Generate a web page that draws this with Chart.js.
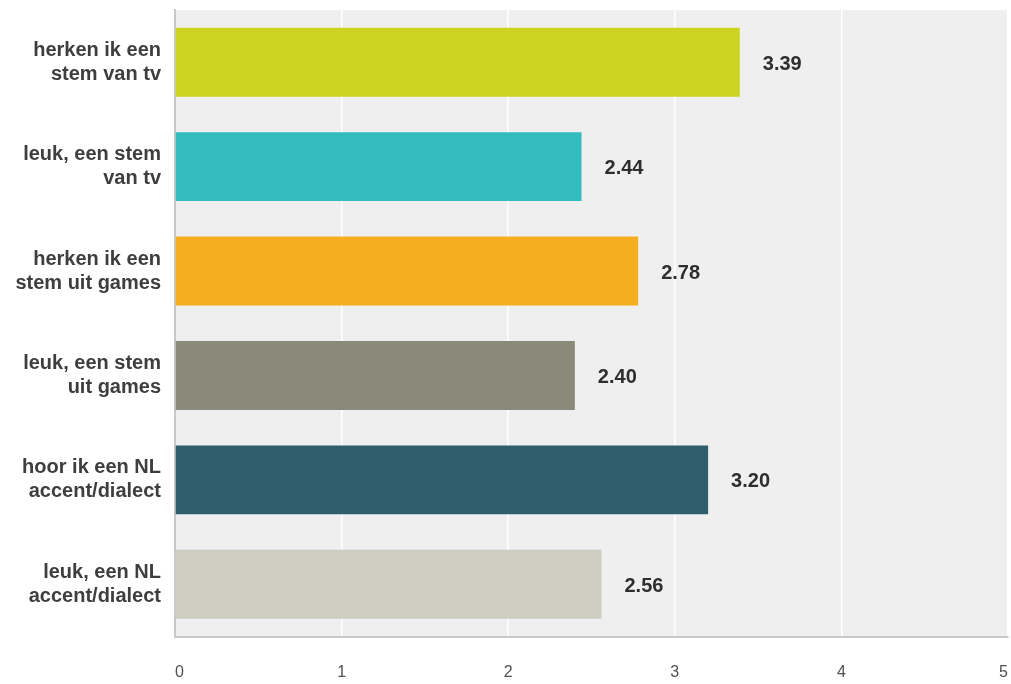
<!DOCTYPE html>
<html>
<head>
<meta charset="utf-8">
<script src="https://cdn.jsdelivr.net/npm/chart.js@4/dist/chart.umd.min.js"></script>
<style>
  html, body { margin: 0; padding: 0; background: #ffffff; }
  #wrap { width: 1011px; height: 684px; position: relative; }
</style>
</head>
<body>
<div id="wrap"><canvas id="c" width="1011" height="684"></canvas></div>
<script>
// Answer categories (two-line labels) and their average scores
const categories = [
  ["herken ik een", "stem van tv"],
  ["leuk, een stem", "van tv"],
  ["herken ik een", "stem uit games"],
  ["leuk, een stem", "uit games"],
  ["hoor ik een NL", "accent/dialect"],
  ["leuk, een NL", "accent/dialect"]
];
const averages = [3.39, 2.44, 2.78, 2.40, 3.20, 2.56];
const barColors = ["#cdd321", "#33bcbe", "#f5ae20", "#898a7a", "#2e5e6b", "#cecdbf"];
const axisTicks = [0, 1, 2, 3, 4, 5];

const FONT = "'Liberation Sans', Arial, sans-serif";

// Light grey panel behind the bars
const panelBackground = {
  id: 'panelBackground',
  beforeDraw(chart) {
    const { ctx, chartArea: a } = chart;
    ctx.save();
    ctx.fillStyle = '#efefef';
    ctx.fillRect(a.left, a.top, a.right - a.left, a.bottom - a.top);
    ctx.restore();
  }
};

// Score printed to the right of each bar
const valueLabels = {
  id: 'valueLabels',
  afterDatasetsDraw(chart) {
    const { ctx } = chart;
    const meta = chart.getDatasetMeta(0);
    ctx.save();
    ctx.font = "bold 20px " + FONT;
    ctx.fillStyle = '#2e2e2e';
    ctx.textAlign = 'left';
    ctx.textBaseline = 'middle';
    meta.data.forEach((bar, i) => {
      ctx.fillText(averages[i].toFixed(2), bar.x + 23, bar.y + 2);
    });
    ctx.restore();
  }
};

new Chart(document.getElementById('c'), {
  type: 'bar',
  data: {
    labels: categories,
    datasets: [{
      data: averages,
      backgroundColor: barColors,
      borderWidth: 0,
      categoryPercentage: 1.0,
      barPercentage: 0.66
    }]
  },
  options: {
    indexAxis: 'y',
    responsive: false,
    animation: false,
    devicePixelRatio: 1,
    layout: { padding: { top: 10, right: 3, left: 0, bottom: 0 } },
    plugins: {
      legend: { display: false },
      tooltip: { enabled: false }
    },
    scales: {
      x: {
        min: 0,
        max: 5,
        afterBuildTicks(scale) {
          scale.ticks = axisTicks.map(v => ({ value: v }));
        },
        afterFit(scale) {
          scale.height = 47.5;
          scale.paddingLeft = 0;
          scale.paddingRight = 0;
        },
        grid: {
          drawTicks: false,
          color: ctx => ctx.tick && ctx.tick.value === 0 ? 'rgba(0,0,0,0)' : '#ffffff',
          lineWidth: 1.5
        },
        border: { display: true, color: '#c8c8c8', width: 2 },
        ticks: {
          align: 'inner',
          padding: 26,
          color: '#505050',
          font: { family: FONT, size: 16 }
        }
      },
      y: {
        afterFit(scale) {
          scale.width = 175;
          scale.paddingTop = 0;
          scale.paddingBottom = 0;
        },
        grid: { display: false, drawTicks: false },
        border: { display: true, color: '#c8c8c8', width: 2 },
        ticks: {
          padding: 14,
          color: '#3e3e3e',
          font: { family: FONT, size: 20, weight: 'bold', lineHeight: 1.2 }
        }
      }
    }
  },
  plugins: [panelBackground, valueLabels]
});
</script>
</body>
</html>
